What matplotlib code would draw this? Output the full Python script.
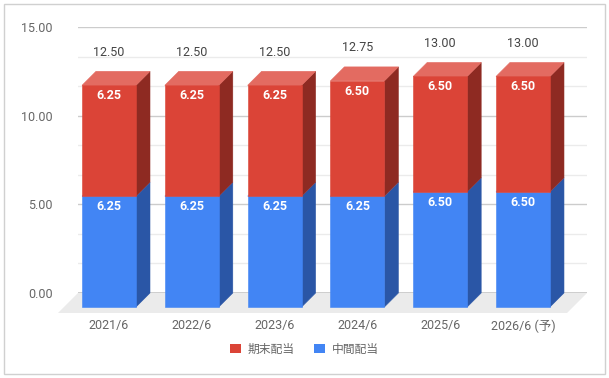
import matplotlib
matplotlib.use("Agg")
import matplotlib.pyplot as plt
from matplotlib.patches import Polygon, Patch, Rectangle
import numpy as np

plt.rcParams['font.family'] = ['Roboto', 'Noto Sans CJK JP', 'DejaVu Sans']

categories = ['2021/6', '2022/6', '2023/6', '2024/6', '2025/6', '2026/6 (予)']
interim = [6.25, 6.25, 6.25, 6.25, 6.50, 6.50]   # 中間配当
final = [6.25, 6.25, 6.25, 6.50, 6.50, 6.50]     # 期末配当
yticks = [0, 5, 10, 15]
series_names = ['期末配当', '中間配当']

W, H = 609, 378
fig = plt.figure(figsize=(W / 100, H / 100), dpi=100)
ax = fig.add_axes([78 / W, (H - 293) / H, (587 - 78) / W, (293 - 27) / H])
ax.set_xlim(-0.5435, 5.604)
ax.set_ylim(0, 15)
for s in ax.spines.values():
    s.set_visible(False)

# depth offsets in data units
def px_to_data(dpx):
    p0 = ax.transData.transform((0, 0))
    p1 = ax.transData.inverted().transform(p0 + np.array([dpx, dpx]))
    return p1[0], p1[1]

ddx, ddy = px_to_data(14)
fdx, fdy = px_to_data(20)

# gridlines
for v in np.arange(0, 15.01, 5 / 3):
    major = abs(v / 5 - round(v / 5)) < 1e-6
    ax.axhline(v, color='#cccccc' if major else '#ebebeb', lw=1, zorder=0)
ax.axhline(0, color='#333333', lw=1, zorder=1)

x0, x1 = ax.get_xlim()
floor = Polygon([(x0, 0), (x1, 0), (x1 - fdx, -fdy), (x0 - fdx, -fdy)],
                closed=True, facecolor='#ebebeb', edgecolor='none', clip_on=False, zorder=0.5)
ax.add_patch(floor)

bw = 0.652
x = np.arange(len(categories))
interim = np.array(interim)
final = np.array(final)
totals = interim + final

colors = {
    'blue': ('#4285f4', '#2a56a6', '#6a9df6'),
    'red': ('#db4437', '#8e2a22', '#e36b61'),
}

def draw_segment(xc, bottom, height, cols, z):
    front, side, top = cols
    xl, xr = xc - bw / 2, xc + bw / 2
    yt = bottom + height
    ax.add_patch(Polygon([(xr - ddx, bottom - ddy), (xr, bottom), (xr, yt), (xr - ddx, yt - ddy)],
                         closed=True, facecolor=side, edgecolor=side, lw=0.4, clip_on=False, zorder=z))
    ax.add_patch(Polygon([(xl - ddx, yt - ddy), (xl, yt), (xr, yt), (xr - ddx, yt - ddy)],
                         closed=True, facecolor=top, edgecolor=top, lw=0.4, clip_on=False, zorder=z))
    ax.bar(xc - ddx, height, bottom=bottom - ddy, width=bw, color=front, edgecolor=front,
           clip_on=False, zorder=z + 0.1, linewidth=0.4)

for i in range(len(categories)):
    draw_segment(x[i], 0, interim[i], colors['blue'], 2)
    draw_segment(x[i], interim[i], final[i], colors['red'], 3)
    ax.annotate(f'{interim[i]:.2f}', (x[i] - ddx, interim[i] - ddy), xytext=(0, -7.4),
                textcoords='offset points', ha='center', va='center', color='white',
                fontsize=9, fontweight='semibold', zorder=5)
    ax.annotate(f'{final[i]:.2f}', (x[i] - ddx, totals[i] - ddy), xytext=(0, -7.4),
                textcoords='offset points', ha='center', va='center', color='white',
                fontsize=9, fontweight='semibold', zorder=5)
    ax.annotate(f'{totals[i]:.2f}', (x[i] - ddx, totals[i] - ddy), xytext=(0, 23.8),
                textcoords='offset points', ha='center', va='center', color='#444444',
                fontsize=9, zorder=5)

ax.set_yticks(yticks)
ax.set_yticklabels([f'{v:.2f}' for v in yticks], color='#666666', fontsize=9)
ax.set_xticks(x - ddx)
ax.set_xticklabels(categories, color='#666666', fontsize=9)
ax.tick_params(axis='y', length=0, pad=18)
ax.tick_params(axis='x', length=0, pad=19)

handles = [Patch(facecolor=colors['red'][0], edgecolor='none'),
           Patch(facecolor=colors['blue'][0], edgecolor='none')]
fig.legend(handles, series_names, loc='center', bbox_to_anchor=(0.5, (H - 349) / H), ncol=2,
           frameon=False, fontsize=8.5, labelcolor='#666666', handlelength=0.9, handleheight=0.9,
           handletextpad=0.6, columnspacing=1.6)

fig.patches.append(Rectangle((4 / W, 4 / H), (605 - 4) / W, (374 - 4) / H, transform=fig.transFigure,
                             fill=False, edgecolor='#d0d0d0', lw=1))

fig.savefig('out.png', dpi=100)
